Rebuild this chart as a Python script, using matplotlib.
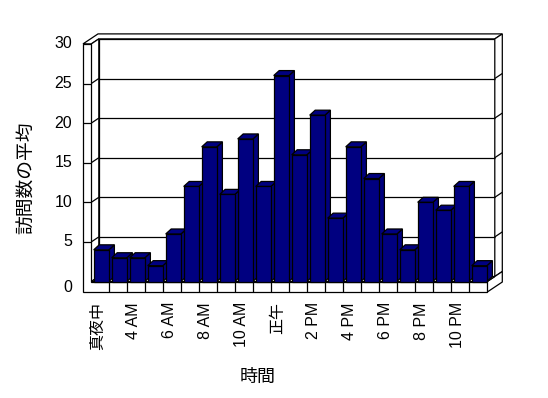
import matplotlib
matplotlib.use("Agg")
import matplotlib.pyplot as plt
from matplotlib.patches import Polygon

plt.rcParams['font.family'] = ['Liberation Sans', 'Noto Sans CJK JP', 'DejaVu Sans']

# ---- data ----
categories = ['真夜中', '1 AM', '4 AM', '5 AM', '6 AM', '7 AM', '8 AM', '9 AM',
              '10 AM', '11 AM', '正午', '1 PM', '2 PM', '3 PM', '4 PM', '5 PM',
              '6 PM', '7 PM', '8 PM', '9 PM', '10 PM', '11 PM']
values = [4, 3, 3, 2, 6, 12, 17, 11, 18, 12, 26, 16, 21, 8, 17, 13, 6, 4, 10, 9, 12, 2]
y_ticks = [0, 5, 10, 15, 20, 25, 30]
x_title = '時間'
y_title = '訪問数の平均'

# ---- layout (pixel scale -> data units) ----
W, H = 548, 398
PX_CAT = 18.0      # px per category
PX_VAL = 7.92      # px per value unit
X0PX = 100.3       # px of category 0 centre
Y0PX = 281.5       # px of value 0 (front plane)

fig = plt.figure(figsize=(W / 100, H / 100), dpi=100)
ax = fig.add_axes([0, 0, 1, 1])
ax.set_xlim((0 - X0PX) / PX_CAT, (W - X0PX) / PX_CAT)
ax.set_ylim((Y0PX - H) / PX_VAL, Y0PX / PX_VAL)
ax.axis('off')

n = len(values)
ZX, ZY = 7.5 / PX_CAT, 5.0 / PX_VAL        # depth step (wall plane)
T = 8.3 / PX_CAT                            # left wall thickness
F = 10.5 / PX_VAL                           # floor thickness
BX, BY = 5.5 / PX_CAT, 5.0 / PX_VAL         # bar depth
BW = 7.6 / PX_CAT                           # bar half width
BC = 1.0 / PX_CAT                           # bar centre shift
xl, xr = -0.5, n - 0.5
YMAX = y_ticks[-1]

lw = 0.9
def poly(pts, fc='white', z=1):
    ax.add_patch(Polygon(pts, closed=True, facecolor=fc, edgecolor='black',
                         linewidth=lw, zorder=z, joinstyle='miter'))

def line(xs, ys, z=2):
    ax.plot(xs, ys, color='black', linewidth=lw, zorder=z, solid_capstyle='butt')

# top faces of walls
poly([(xl - T, YMAX), (xl, YMAX), (xl + ZX, YMAX + ZY), (xr + ZX, YMAX + ZY),
      (xr + 2 * ZX, YMAX + 2 * ZY), (xl - T + 2 * ZX, YMAX + 2 * ZY)])
# back wall front face
poly([(xl + ZX, ZY), (xr + ZX, ZY), (xr + ZX, YMAX + ZY), (xl + ZX, YMAX + ZY)])
# back wall right face
poly([(xr + ZX, ZY), (xr + ZX, YMAX + ZY), (xr + 2 * ZX, YMAX + 2 * ZY), (xr + 2 * ZX, 2 * ZY)])
# floor right face
poly([(xr, -F), (xr, 0), (xr + 2 * ZX, 2 * ZY), (xr + 2 * ZX, -F + 2 * ZY)])
# left wall inner face
poly([(xl, 0), (xl, YMAX), (xl + ZX, YMAX + ZY), (xl + ZX, ZY)])
# floor top
poly([(xl, 0), (xr, 0), (xr + ZX, ZY), (xl + ZX, ZY)])
# front faces of left wall + floor
poly([(xl - T, -F), (xl - T, YMAX), (xl, YMAX), (xl, 0), (xr, 0), (xr, -F)])

# gridlines
for v in y_ticks[1:-1]:
    line([xl + ZX, xr + ZX], [v + ZY, v + ZY])
    line([xr + ZX, xr + 2 * ZX], [v + ZY, v + 2 * ZY])
    line([xl, xl + ZX], [v, v + ZY])
    line([xl - T, xl], [v, v])

# floor dividers (category ticks)
for k in range(1, n):
    line([k - 0.5, k - 0.5], [-F, 0])

# bars
navy = '#000080'
for i, v in enumerate(values):
    a, b = i + BC - BW, i + BC + BW
    z = 10 + i
    poly([(b, 0), (b, v), (b + BX, v + BY), (b + BX, BY)], fc=navy, z=z)
    poly([(a, v), (b, v), (b + BX, v + BY), (a + BX, v + BY)], fc=navy, z=z)
    poly([(a, 0), (b, 0), (b, v), (a, v)], fc=navy, z=z)

# y tick labels
lab_x = (72 - X0PX) / PX_CAT
for v in y_ticks:
    yy = v if v != 0 else -0.8
    ax.text(lab_x, yy, str(v), ha='right', va='center', fontsize=11.5)

# x tick labels (every other category)
lab_y = (Y0PX - 302) / PX_VAL
for i, c in enumerate(categories):
    if i % 2 == 0:
        ax.text(i - 0.15, lab_y, c, rotation=90, ha='center', va='top', fontsize=11.5)

# axis titles
ax.text((258 - X0PX) / PX_CAT, (Y0PX - 377) / PX_VAL, x_title,
        ha='center', va='center', fontsize=13)
ax.text((27 - X0PX) / PX_CAT, (Y0PX - 178) / PX_VAL, y_title,
        ha='center', va='center', rotation=90, fontsize=13.5)

fig.savefig('out.png', dpi=100, facecolor='white')
